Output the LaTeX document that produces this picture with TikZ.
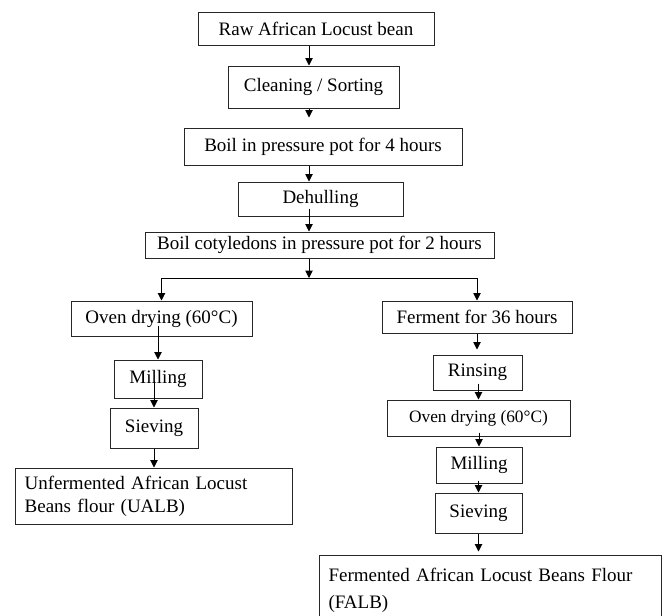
\documentclass[tikz,border=0pt]{standalone}
\usepackage{fontspec}
\setmainfont{Liberation Serif}
\usetikzlibrary{arrows.meta,positioning,calc}

\begin{document}
\begin{tikzpicture}[
  x=0.75pt, y=-0.75pt,
  font=\fontsize{14.25}{17}\selectfont,
  stepbox/.style={rectangle, draw=black!85, line width=0.75pt, inner sep=2pt, align=center},
  notebox/.style={rectangle, draw=black!85, line width=0.75pt, inner xsep=7pt, align=left},
  link/.style={-{Triangle[length=5.5pt, width=5.5pt]}, line width=0.7pt, draw=black},
]
\useasboundingbox (0,0) rectangle (664,615);

% main column
\node[stepbox, minimum width=177pt, minimum height=24.75pt]   (raw)    at (316,28.5)  {Raw African Locust bean};
\node[stepbox, minimum width=128.25pt, minimum height=31.5pt] (clean)  at (313.5,87)  {Cleaning / Sorting};
\node[stepbox, minimum width=208.5pt, minimum height=27.75pt] (boilA)  at (323,146.5) {Boil in pressure pot for 4 hours};
\node[stepbox, minimum width=123.75pt, minimum height=25.5pt] (dehull) at (320.5,199) {Dehulling};
\node[stepbox, minimum width=261.75pt, minimum height=19.5pt, inner sep=0pt] (boilB) at (319.5,245) {Boil cotyledons in pressure pot for 2 hours};

\coordinate (spine) at (309,0);
\coordinate (split) at (309,278);

% unfermented branch
\node[stepbox, minimum width=135.75pt, minimum height=26.25pt] (ovenU)  at (161.5,318.5) {Oven drying (60°C)};
\node[stepbox, minimum width=66pt, minimum height=28.5pt]      (millU)  at (158,379)     {Milling};
\node[stepbox, minimum width=66pt, minimum height=30pt]        (sieveU) at (154,428)     {Sieving};
\node[notebox, text width=194pt, minimum height=42pt]          (ualb)   at (154,496)
  {Unfermented African Locust\\Beans flour (UALB)};

% fermented branch
\node[stepbox, minimum width=142.5pt, minimum height=24pt]     (ferment) at (477,317)    {Ferment for 36 hours};
\node[stepbox, minimum width=66.75pt, minimum height=26.25pt]  (rinse)   at (477.5,372.5) {Rinsing};
\node[stepbox, minimum width=137.25pt, minimum height=27pt, font=\fontsize{13}{15}\selectfont] (ovenF) at (478.5,418) {Oven drying (60°C)};
\node[stepbox, minimum width=64.5pt, minimum height=27pt]      (millF)   at (479,465)    {Milling};
\node[stepbox, minimum width=65.25pt, minimum height=30pt]     (sieveF)  at (478.5,513)  {Sieving};
\node[notebox, text width=243pt, minimum height=52.5pt, font=\fontsize{14.25}{20}\selectfont] (falb) at (490.5,590)
  {Fermented African Locust Beans Flour\\(FALB)};

% connectors
\draw[link] (spine |- raw.south) -- (spine |- clean.north);
\draw[link, shorten >=7.5pt] (spine |- clean.south) -- (spine |- boilA.north);
\draw[link] (spine |- boilA.south) -- (spine |- dehull.north);
\draw[link, shorten <=-6pt] (spine |- dehull.south) -- (spine |- boilB.north);
\draw[link] (spine |- boilB.south) -- (split);
\draw[link] (split) -| (ovenU.north);
\draw[link] (split) -| (ferment.north);

\draw[link, shorten <=-8.25pt] (millU.north |- ovenU.south) -- (millU.north);
\draw[link, shorten <=-13.5pt] (sieveU.north |- millU.south) -- (sieveU.north);
\draw[link] (sieveU.south) -- (sieveU.south |- ualb.north);

\draw[link, shorten >=3.75pt] (ferment.south) -- (ferment.south |- rinse.north);
\draw[link, shorten <=-5.25pt] (ovenF.north |- rinse.south) -- (ovenF.north);
\draw[link, shorten <=-3pt] (millF.north |- ovenF.south) -- (millF.north);
\draw[link, shorten <=-2.25pt] (sieveF.north |- millF.south) -- (sieveF.north);
\draw[link, shorten >=2.25pt] (sieveF.south) -- (sieveF.south |- falb.north);

\end{tikzpicture}
\end{document}
